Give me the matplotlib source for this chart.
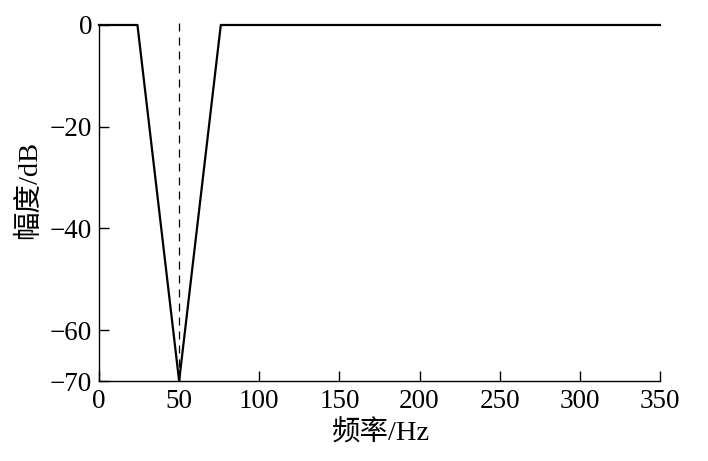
import matplotlib.pyplot as plt

# response of the notch filter
freq = [0, 24, 50, 76, 350]
mag = [0, 0, -70, 0, 0]
notch_freq = 50

x_ticks = [0, 50, 100, 150, 200, 250, 300, 350]
y_ticks = [0, -20, -40, -60, -70]

plt.rcParams['font.family'] = ['Liberation Serif', 'Noto Sans CJK SC']
plt.rcParams['axes.unicode_minus'] = True

fig = plt.figure(figsize=(7.08, 4.61), dpi=100)
ax = fig.add_axes([0.1398, 0.1735, 0.7924, 0.7723])

ax.plot(freq, mag, color='black', lw=1.6, clip_on=False, zorder=3)
ax.plot([notch_freq, notch_freq], [-70, 1], color='black', lw=0.9,
        ls=(0, (6.4, 4.8)), clip_on=False)

ax.set_xlim(0, 350)
ax.set_ylim(-70, 0)
ax.set_xticks(x_ticks)
ax.set_yticks(y_ticks)
ax.set_yticklabels(['0' if v == 0 else '\u2212' + str(-v) for v in y_ticks])

for s in ['top', 'right']:
    ax.spines[s].set_visible(False)
for s in ['left', 'bottom']:
    ax.spines[s].set_linewidth(1.0)

ax.tick_params(direction='in', length=7, width=1, labelsize=19.5)
ax.tick_params(axis='x', pad=6)
ax.tick_params(axis='y', pad=5)
ax.set_xlabel('频率/Hz', fontsize=20.5)
ax.set_ylabel('幅度/dB', fontsize=20.5)
ax.xaxis.set_label_coords(0.503, -0.112)
ax.yaxis.set_label_coords(-0.102, 0.536)

fig.savefig('out.png', dpi=100)
